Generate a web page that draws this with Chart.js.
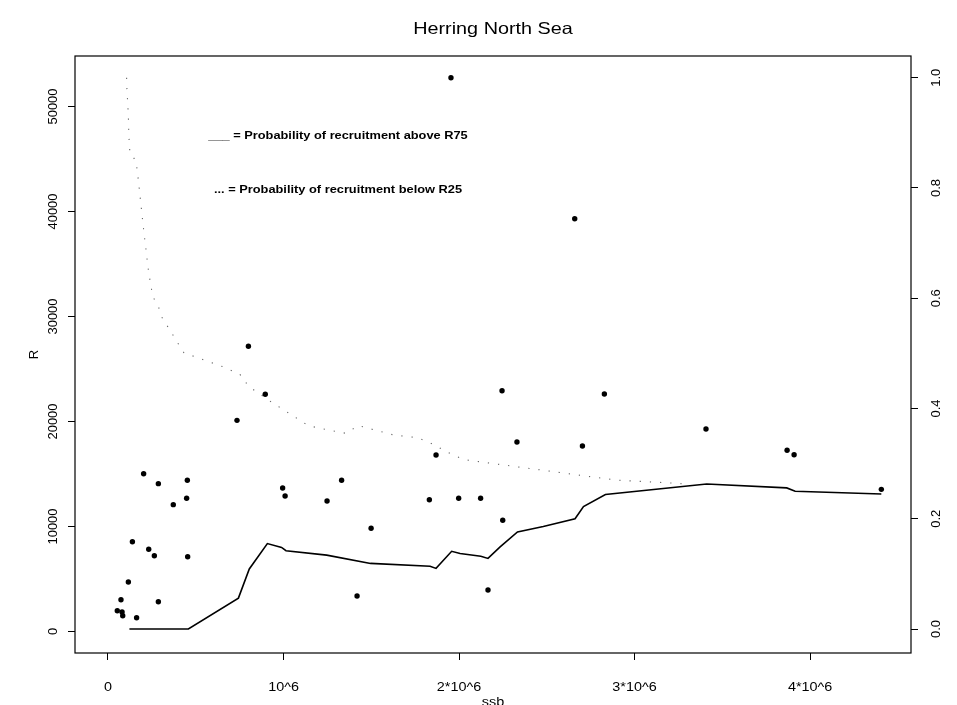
<!DOCTYPE html>
<html>
<head>
<meta charset="utf-8">
<title>Herring North Sea</title>
<script src="https://cdn.jsdelivr.net/npm/chart.js@4.4.1/dist/chart.umd.min.js"></script>
<style>
  html, body { margin: 0; padding: 0; background: #fff; }
  #wrap { width: 957px; height: 705px; }
</style>
</head>
<body>
<div id="wrap"><canvas id="chart" width="957" height="705"></canvas></div>
<script>
// Observed stock/recruitment pairs (SSB in tonnes, R)
const ssb = [
  53000, 74000, 80000, 84000, 116000, 139000, 163000, 203000, 232000, 264000,
  287000, 287000, 372000, 448000, 452000, 454000, 735000, 800000, 896000, 995000,
  1009000, 1248000, 1331000, 1419000, 1499000, 1831000, 1869000, 1954000, 1998000, 2123000,
  2165000, 2245000, 2249000, 2330000, 2659000, 2703000, 2828000, 3407000, 3869000, 3909000,
  4406000
];
const recruits = [
  1980, 3030, 1860, 1500, 4710, 8550, 1310, 15030, 7830, 7220,
  14080, 2840, 12080, 12690, 14400, 7120, 20110, 27160, 22590, 13670,
  12900, 12430, 14400, 3380, 9830, 12550, 16810, 52740, 12690, 12690,
  3950, 22930, 10590, 18050, 39310, 17670, 22620, 19290, 17260, 16840,
  13540
];

// Probability of recruitment above R75 (solid line, right axis)
const aboveSsb = [
  122000, 458000, 743000, 805000, 908000, 989000, 1014000, 1246000, 1496000, 1835000,
  1869000, 1958000, 2006000, 2124000, 2165000, 2234000, 2333000, 2480000, 2661000, 2709000,
  2834000, 3411000, 3867000, 3915000, 4406000
];
const aboveProb = [
  0.0, 0.0, 0.056, 0.109, 0.155, 0.148, 0.142, 0.134, 0.119, 0.114,
  0.110, 0.141, 0.137, 0.132, 0.128, 0.149, 0.176, 0.186, 0.200, 0.222,
  0.244, 0.263, 0.256, 0.250, 0.245
];

// Probability of recruitment below R25 (dotted line, right axis)
const belowSsb = [
  106000, 108000, 116000, 119000, 125000, 160000, 173000, 201000, 230000, 239000,
  255000, 287000, 306000, 363000, 397000, 433000, 653000, 752000, 767000, 815000,
  876000, 900000, 1141000, 1208000, 1356000, 1426000, 1626000, 1765000, 1854000, 1920000,
  1977000, 2034000, 2898000, 3202000, 3297000
];
const belowProb = [
  1.0, 0.978, 0.932, 0.893, 0.863, 0.849, 0.814, 0.73, 0.651, 0.633,
  0.603, 0.585, 0.566, 0.537, 0.519, 0.501, 0.476, 0.462, 0.453, 0.437,
  0.424, 0.418, 0.369, 0.364, 0.355, 0.369, 0.352, 0.347, 0.335, 0.323,
  0.314, 0.307, 0.27, 0.265, 0.263
];

// Axis ticks
const xTicks = [0, 1000000, 2000000, 3000000, 4000000];
const xTickLabels = ['0', '10^6', '2*10^6', '3*10^6', '4*10^6'];
const rTicks = [0, 10000, 20000, 30000, 40000, 50000];
const pTicks = [0, 0.2, 0.4, 0.6, 0.8, 1.0];

const FONT = '"Liberation Sans", Arial, Helvetica, sans-serif';

// draw text, optionally stretched sideways (the scan is wider than tall)
function drawText(ctx, txt, x, y, font, opts = {}) {
  ctx.save();
  ctx.translate(x, y);
  if (opts.rot) ctx.rotate(opts.rot);
  ctx.scale(opts.sx || 1, 1);
  ctx.font = font;
  ctx.fillStyle = '#000';
  ctx.textAlign = opts.align || 'center';
  ctx.textBaseline = 'middle';
  ctx.fillText(txt, 0, 0);
  ctx.restore();
}

const framePlugin = {
  id: 'frame',
  afterDraw(chart) {
    const ctx = chart.ctx;
    const a = chart.chartArea;
    const xs = chart.scales.x, ys = chart.scales.y, ps = chart.scales.p;

    // plot box
    ctx.save();
    ctx.strokeStyle = '#000';
    ctx.lineWidth = 1.2;
    ctx.strokeRect(a.left, a.top, a.right - a.left, a.bottom - a.top);
    ctx.restore();

    // title
    drawText(ctx, 'Herring North Sea', (a.left + a.right) / 2, 29, '16.5px ' + FONT, { sx: 1.2 });

    // x tick labels
    xTicks.forEach((v, i) => {
      drawText(ctx, xTickLabels[i], xs.getPixelForValue(v), 688, '12px ' + FONT, { sx: 1.2 });
    });

    // left tick labels, rotated like R's las=0
    rTicks.forEach(v => {
      drawText(ctx, String(v), 53, ys.getPixelForValue(v), '13px ' + FONT, { rot: -Math.PI / 2 });
    });

    // right tick labels
    pTicks.forEach(v => {
      drawText(ctx, v.toFixed(1), 936, ps.getPixelForValue(v), '13px ' + FONT, { rot: -Math.PI / 2 });
    });

    // axis titles
    drawText(ctx, 'R', 34, (a.top + a.bottom) / 2, '13px ' + FONT, { rot: -Math.PI / 2 });
    drawText(ctx, 'ssb', (a.left + a.right) / 2, 703, '12px ' + FONT, { sx: 1.2 });

    // legend text inside the plot
    drawText(ctx, '___ = Probability of recruitment above R75', 338, 136, 'bold 10.5px ' + FONT, { sx: 1.22 });
    drawText(ctx, '... = Probability of recruitment below R25', 338, 190, 'bold 10.5px ' + FONT, { sx: 1.22 });
  }
};

function fixedTicks(values) {
  return scale => { scale.ticks = values.map(v => ({ value: v })); };
}

const tickGrid = { drawOnChartArea: false, drawTicks: true, tickLength: 7, color: '#000', lineWidth: 1 };

new Chart(document.getElementById('chart'), {
  type: 'scatter',
  data: {
    datasets: [
      {
        label: 'observed',
        data: ssb.map((s, i) => ({ x: s, y: recruits[i] })),
        yAxisID: 'y',
        showLine: false,
        pointRadius: 2.7,
        pointBackgroundColor: '#000',
        pointBorderWidth: 0,
      },
      {
        label: 'above R75',
        data: aboveSsb.map((s, i) => ({ x: s, y: aboveProb[i] })),
        yAxisID: 'p',
        showLine: true,
        borderColor: '#000',
        borderWidth: 1.6,
        pointRadius: 0,
        tension: 0,
      },
      {
        label: 'below R25',
        data: belowSsb.map((s, i) => ({ x: s, y: belowProb[i] })),
        yAxisID: 'p',
        showLine: true,
        borderColor: '#666',
        borderWidth: 1.1,
        borderDash: [1.2, 9],
        pointRadius: 0,
        tension: 0,
      },
    ],
  },
  options: {
    responsive: false,
    animation: false,
    layout: { padding: { top: 56, left: 0, right: 0, bottom: 0 } },
    plugins: {
      legend: { display: false },
      title: { display: false },
      tooltip: { enabled: false },
    },
    scales: {
      x: {
        type: 'linear',
        position: 'bottom',
        min: -188000,
        max: 4575000,
        afterBuildTicks: fixedTicks(xTicks),
        afterFit: s => { s.height = 52; },
        grid: tickGrid,
        border: { display: false },
        ticks: { display: false },
      },
      y: {
        type: 'linear',
        position: 'left',
        min: -2048,
        max: 54810,
        afterBuildTicks: fixedTicks(rTicks),
        afterFit: s => { s.width = 75; },
        grid: tickGrid,
        border: { display: false },
        ticks: { display: false },
      },
      p: {
        type: 'linear',
        position: 'right',
        min: -0.0435,
        max: 1.0394,
        afterBuildTicks: fixedTicks(pTicks),
        afterFit: s => { s.width = 46; },
        grid: tickGrid,
        border: { display: false },
        ticks: { display: false },
      },
    },
  },
  plugins: [framePlugin],
});
</script>
</body>
</html>
